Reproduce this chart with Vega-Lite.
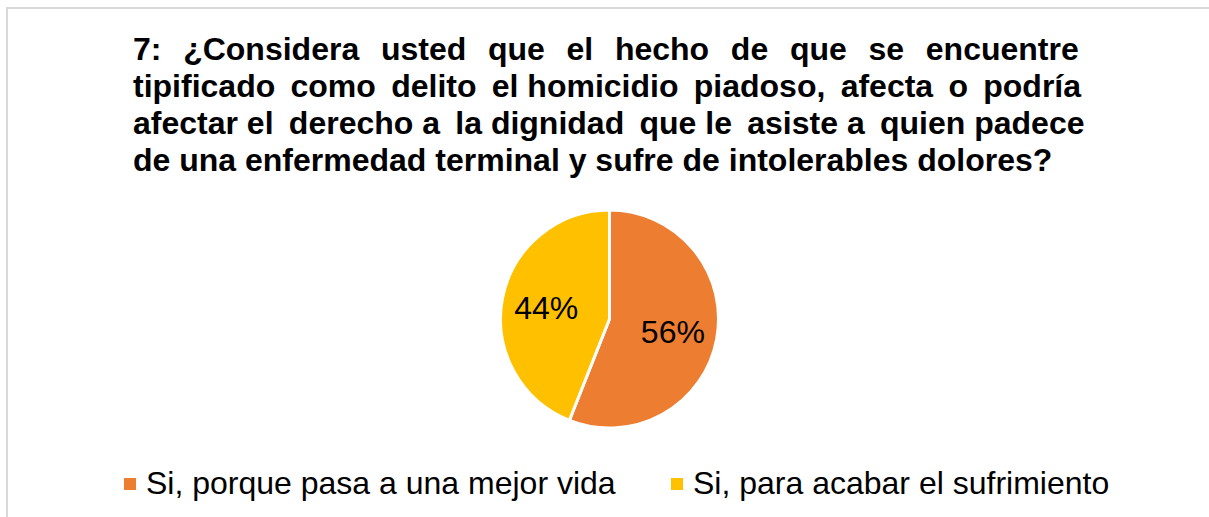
{
  "$schema": "https://vega.github.io/schema/vega-lite/v6.json",
  "autosize": "none",
  "width": 1205,
  "height": 622,
  "padding": {"left": 7, "top": 8, "right": 0, "bottom": 0},
  "background": "white",
  "view": {"stroke": "#D9D9D9", "strokeWidth": 2},
  "config": {"view": {"stroke": "#D9D9D9", "strokeWidth": 2}, "style": {"cell": {"stroke": "#D9D9D9", "strokeWidth": 2}}},
  "title": {
    "text": [
      "7: \u2009\u2009¿Considera \u2009\u2009usted \u2009\u2009que \u2009\u2009el \u2009\u2009hecho \u2009\u2009de \u2009\u2009que \u2009\u2009se \u2009\u2009encuentre",
      "tipificado \u2009como \u2009delito \u2009el homicidio \u2009piadoso, \u2009afecta \u2009o \u2009podría",
      "afectar el \u2009derecho a \u2009la dignidad \u2009que le \u2009asiste a \u2009quien padece",
      "de una enfermedad terminal y sufre de intolerables dolores?"
    ],
    "anchor": "start",
    "frame": "group",
    "font": "Liberation Sans",
    "fontSize": 32,
    "fontWeight": "bold",
    "color": "#000000",
    "lineHeight": 37,
    "baseline": "top",
    "dx": 126,
    "offset": -170
  },
  "data": {
    "values": [
      {"respuesta": "Si, porque pasa a una mejor vida", "porcentaje": 56, "orden": 1, "etiqueta": "56%"},
      {"respuesta": "Si, para acabar el sufrimiento", "porcentaje": 44, "orden": 2, "etiqueta": "44%"}
    ]
  },
  "encoding": {
    "theta": {"field": "porcentaje", "type": "quantitative", "stack": true},
    "order": {"field": "orden", "type": "quantitative"}
  },
  "layer": [
    {
      "mark": {"type": "arc", "outerRadius": 109, "stroke": "white", "strokeWidth": 3},
      "encoding": {
        "color": {
          "field": "respuesta",
          "type": "nominal",
          "scale": {
            "domain": ["Si, porque pasa a una mejor vida", "Si, para acabar el sufrimiento"],
            "range": ["#ED7D31", "#FFC000"]
          },
          "legend": {
            "title": null,
            "orient": "none",
            "legendX": 107,
            "legendY": 460,
            "direction": "horizontal",
            "symbolType": "square",
            "symbolSize": 144,
            "symbolStrokeWidth": 0,
            "labelFont": "Liberation Sans",
            "labelFontSize": 32,
            "labelColor": "#000000",
            "labelLimit": 0,
            "labelOffset": 0,
            "columnPadding": 45,
            "padding": 0
          }
        }
      }
    },
    {
      "mark": {"type": "text", "radius": 64.5, "font": "Liberation Sans", "fontSize": 32, "baseline": "middle", "align": "center", "dy": 2},
      "encoding": {
        "text": {"field": "etiqueta", "type": "nominal"},
        "color": {"value": "#000000"}
      }
    }
  ]
}
